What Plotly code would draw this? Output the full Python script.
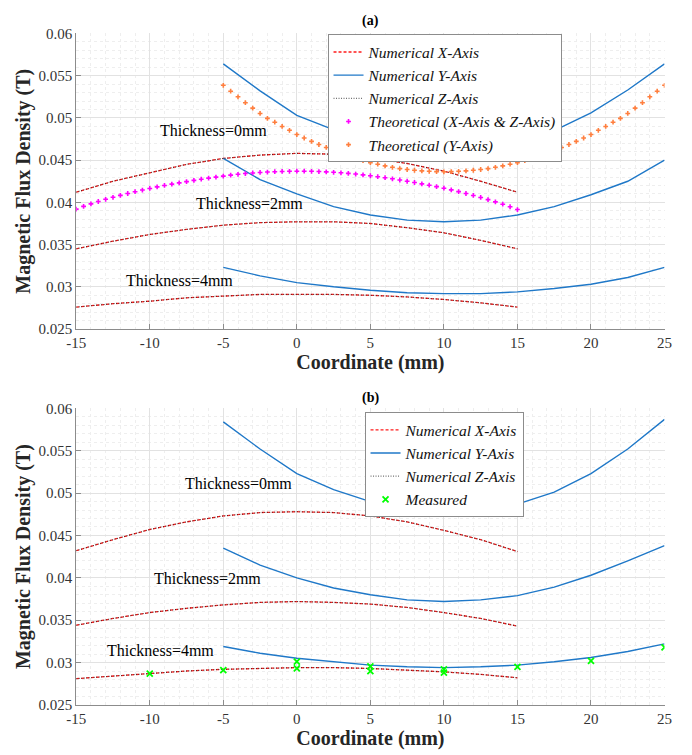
import plotly.graph_objects as go

# ---------------- data ----------------
coord_xz = [-15, -12.5, -10, -7.5, -5, -2.5, 0, 2.5, 5, 7.5, 10, 12.5, 15]
coord_y = [-5, -2.5, 0, 2.5, 5, 7.5, 10, 12.5, 15, 17.5, 20, 22.5, 25]

# panel (a) numerical X/Z-axis (overlapping)
a_xz_t0 = [0.0412, 0.0425, 0.0435, 0.0445, 0.0452, 0.0456, 0.0458, 0.0457, 0.0453, 0.0446, 0.0437, 0.0425, 0.0412]
a_xz_t2 = [0.0345, 0.0354, 0.0362, 0.0368, 0.0373, 0.0376, 0.0377, 0.0377, 0.0375, 0.0370, 0.0364, 0.0355, 0.0345]
a_xz_t4 = [0.0276, 0.0280, 0.0283, 0.0287, 0.0289, 0.0291, 0.0291, 0.0291, 0.0290, 0.0288, 0.0285, 0.0281, 0.0276]
# panel (a) numerical Y-axis
a_y_t0 = [0.0564, 0.0532, 0.0503, 0.0486, 0.0469, 0.0461, 0.0458, 0.0459, 0.0470, 0.0485, 0.0506, 0.0533, 0.0564]
a_y_t2 = [0.0452, 0.0427, 0.0410, 0.0395, 0.0385, 0.0379, 0.0377, 0.0379, 0.0385, 0.0395, 0.0409, 0.0425, 0.0450]
a_y_t4 = [0.0323, 0.0313, 0.0305, 0.0300, 0.0296, 0.0293, 0.0292, 0.0292, 0.0294, 0.0298, 0.0303, 0.0311, 0.0323]

# panel (a) theoretical
theo_xz_coord = [i / 2 for i in range(-30, 31)]
theo_xz = [0.03920, 0.03952, 0.03982, 0.04010, 0.04036, 0.04060, 0.04083, 0.04105, 0.04126, 0.04146,
           0.04165, 0.04183, 0.04200, 0.04216, 0.04231, 0.04246, 0.04260, 0.04274, 0.04287, 0.04299,
           0.04311, 0.04322, 0.04332, 0.04341, 0.04348, 0.04354, 0.04359, 0.04363, 0.04366, 0.04368,
           0.04369,
           0.04369, 0.04368, 0.04365, 0.04361, 0.04356, 0.04350, 0.04343, 0.04335, 0.04326, 0.04315,
           0.04304, 0.04292, 0.04279, 0.04265, 0.04250, 0.04235, 0.04219, 0.04203, 0.04186, 0.04168,
           0.04148, 0.04127, 0.04105, 0.04082, 0.04058, 0.04033, 0.04006, 0.03978, 0.03948, 0.03915]
theo_y_coord = [i / 2 for i in range(-10, 51)]
theo_y = [0.05386, 0.05316, 0.05250, 0.05180, 0.05116, 0.05053, 0.04995, 0.04949, 0.04899, 0.04853,
          0.04803, 0.04762, 0.04722, 0.04685, 0.04650, 0.04615, 0.04580, 0.04550, 0.04520, 0.04495,
          0.04470, 0.04452, 0.04432, 0.04415, 0.04400, 0.04389, 0.04380, 0.04373, 0.04368, 0.04364,
          0.04362,
          0.04364, 0.04368, 0.04373, 0.04380, 0.04389, 0.04400, 0.04415, 0.04432, 0.04452, 0.04470,
          0.04495, 0.04520, 0.04550, 0.04580, 0.04615, 0.04650, 0.04685, 0.04722, 0.04762, 0.04803,
          0.04853, 0.04899, 0.04949, 0.04995, 0.05053, 0.05116, 0.05180, 0.05250, 0.05316, 0.05386]

# panel (b) numerical
b_xz_t0 = [0.0432, 0.0445, 0.0457, 0.0466, 0.0473, 0.0477, 0.0478, 0.0477, 0.0473, 0.0466, 0.0456, 0.0445, 0.0431]
b_xz_t2 = [0.0344, 0.0352, 0.0359, 0.0364, 0.0368, 0.0371, 0.0372, 0.0371, 0.0369, 0.0365, 0.0359, 0.0352, 0.0343]
b_xz_t4 = [0.0281, 0.0284, 0.0287, 0.0290, 0.0292, 0.0293, 0.0294, 0.0294, 0.0293, 0.0291, 0.0289, 0.0286, 0.0282]
b_y_t0 = [0.0584, 0.0552, 0.0523, 0.0504, 0.0490, 0.0481, 0.0478, 0.0479, 0.0487, 0.0501, 0.0523, 0.0552, 0.0587]
b_y_t2 = [0.0435, 0.0415, 0.0400, 0.0388, 0.0380, 0.0374, 0.0372, 0.0374, 0.0379, 0.0389, 0.0403, 0.0420, 0.0438]
b_y_t4 = [0.0319, 0.0311, 0.0305, 0.0301, 0.0297, 0.0295, 0.0294, 0.0295, 0.0297, 0.0301, 0.0306, 0.0313, 0.0322]

# panel (b) measured
meas_x = [-10, -5, 0, 0, 5, 5, 10, 10, 15, 20, 25]
meas_y = [0.0287, 0.0291, 0.0301, 0.0293, 0.02955, 0.0290, 0.0292, 0.0288, 0.0295, 0.0302, 0.0318]

x_ticks = [-15, -10, -5, 0, 5, 10, 15, 20, 25]
x_ticklabels = ["-15", "-10", "-5", "0", "5", "10", "15", "20", "25"]
y_ticks = [0.025, 0.03, 0.035, 0.04, 0.045, 0.05, 0.055, 0.06]
y_ticklabels = ["0.025", "0.03", "0.035", "0.04", "0.045", "0.05", "0.055", "0.06"]

thick_labels = ["Thickness=0mm", "Thickness=2mm", "Thickness=4mm"]

# ---------------- styling ----------------
SERIF = "Liberation Serif"
BLUE = "#1f78c8"
RED = "#ff1a1a"
ORANGE = "#ff7f3f"
MAGENTA = "#ff00ff"
GREEN = "#00ff00"


def join(xs, ys_list):
    X, Y = [], []
    for k, ys in enumerate(ys_list):
        if k:
            X.append(None)
            Y.append(None)
        X += list(xs)
        Y += list(ys)
    return X, Y


fig = go.Figure()

for panel, (xz, yy, leg) in enumerate([((a_xz_t0, a_xz_t2, a_xz_t4), (a_y_t0, a_y_t2, a_y_t4), "legend"),
                                         ((b_xz_t0, b_xz_t2, b_xz_t4), (b_y_t0, b_y_t2, b_y_t4), "legend2")]):
    xa = "x" if panel == 0 else "x2"
    ya = "y" if panel == 0 else "y2"
    X, Y = join(coord_xz, xz)
    fig.add_trace(go.Scatter(x=X, y=Y, mode="lines", name="Numerical X-Axis",
                             line=dict(color=RED, width=1.3, dash="3px,2px"),
                             xaxis=xa, yaxis=ya, legend=leg))
    X, Y = join(coord_y, yy)
    fig.add_trace(go.Scatter(x=X, y=Y, mode="lines", name="Numerical Y-Axis",
                             line=dict(color=BLUE, width=1.4),
                             xaxis=xa, yaxis=ya, legend=leg))
    X, Y = join(coord_xz, xz)
    fig.add_trace(go.Scatter(x=X, y=Y, mode="lines", name="Numerical Z-Axis",
                             line=dict(color="#202020", width=0.8, dash="1px,1.5px"),
                             xaxis=xa, yaxis=ya, legend=leg))
    if panel == 0:
        fig.add_trace(go.Scatter(x=theo_xz_coord, y=theo_xz, mode="markers",
                                 name="Theoretical (X-Axis & Z-Axis)",
                                 marker=dict(symbol="cross", size=4, color=MAGENTA, line=dict(width=0)),
                                 xaxis=xa, yaxis=ya, legend=leg))
        fig.add_trace(go.Scatter(x=theo_y_coord, y=theo_y, mode="markers",
                                 name="Theoretical (Y-Axis)",
                                 marker=dict(symbol="cross", size=4, color=ORANGE, line=dict(width=0)),
                                 xaxis=xa, yaxis=ya, legend=leg))
    else:
        fig.add_trace(go.Scatter(x=meas_x, y=meas_y, mode="markers", name="Measured",
                                 marker=dict(symbol="x-thin", size=6, color=GREEN,
                                             line=dict(width=1.8, color=GREEN)),
                                 xaxis=xa, yaxis=ya, legend=leg))

XDOM = [68 / 692, 672 / 692]
axis_common = dict(showline=True, linecolor="#8c8c8c", linewidth=1, ticks="inside", ticklen=5,
                   tickcolor="#8c8c8c", showgrid=True, gridcolor="#e2e2e2", gridwidth=1,
                   zeroline=False, tickfont=dict(family=SERIF, size=15, color="#333333"))

xaxis_cfg = dict(axis_common, range=[-15, 25], tickvals=x_ticks, ticktext=x_ticklabels,
                 minor=dict(dtick=1, tick0=0, showgrid=True, gridcolor="#eeeeee", griddash="dot", ticks=""),
                 title=dict(text="<b>Coordinate (mm)</b>", font=dict(family=SERIF, size=20, color="#262626"),
                            standoff=4))
yaxis_cfg = dict(axis_common, range=[0.025, 0.06], tickvals=y_ticks, ticktext=y_ticklabels,
                 minor=dict(dtick=0.001, tick0=0, showgrid=True, gridcolor="#eeeeee", griddash="dot", ticks=""),
                 title=dict(text="<b>Magnetic Flux Density (T)</b>",
                            font=dict(family=SERIF, size=20, color="#262626"), standoff=2))

legend_font = dict(family=SERIF, size=15.5, style="italic", color="#111111")
fig.update_layout(
    width=692, height=755, autosize=False,
    margin=dict(l=0, r=0, t=0, b=0),
    paper_bgcolor="white", plot_bgcolor="white",
    xaxis=dict(xaxis_cfg, domain=XDOM, anchor="y"),
    yaxis=dict(yaxis_cfg, domain=[(755 - 328) / 755, (755 - 26) / 755], anchor="x"),
    xaxis2=dict(xaxis_cfg, domain=XDOM, anchor="y2"),
    yaxis2=dict(yaxis_cfg, domain=[(755 - 712) / 755, (755 - 409) / 755], anchor="x2"),
    legend=dict(x=326 / 692, y=1 - 27 / 755, xanchor="left", yanchor="top", bgcolor="white",
                bordercolor="#8c8c8c", borderwidth=1, tracegroupgap=0, itemwidth=30,
                font=legend_font),
    legend2=dict(x=364 / 692, y=1 - 413 / 755, xanchor="left", yanchor="top", bgcolor="white",
                 bordercolor="#8c8c8c", borderwidth=1, tracegroupgap=0, itemwidth=30,
                 font=legend_font),
    showlegend=True,
)

annotations = [
    dict(text="<b>(a)</b>", x=370 / 692, y=1 - 13 / 755, xref="paper", yref="paper",
         xanchor="center", yanchor="middle",
         showarrow=False, font=dict(family=SERIF, size=14, color="black")),
    dict(text="<b>(b)</b>", x=370 / 692, y=1 - 398 / 755, xref="paper", yref="paper",
         xanchor="center", yanchor="middle",
         showarrow=False, font=dict(family=SERIF, size=14, color="black")),
]
a_pos = [(-5.7, 0.04853), (-3.25, 0.03983), (-7.97, 0.0308)]
b_pos = [(-3.95, 0.05113), (-6.1, 0.03992), (-9.26, 0.03137)]
for lab, (px, py) in zip(thick_labels, a_pos):
    annotations.append(dict(text=lab, x=px, y=py, xref="x", yref="y", showarrow=False,
                            xanchor="center", yanchor="middle",
                            font=dict(family=SERIF, size=16, color="black")))
for lab, (px, py) in zip(thick_labels, b_pos):
    annotations.append(dict(text=lab, x=px, y=py, xref="x2", yref="y2", showarrow=False,
                            xanchor="center", yanchor="middle",
                            font=dict(family=SERIF, size=16, color="black")))
fig.update_layout(annotations=annotations)

fig.write_html("out.html")
